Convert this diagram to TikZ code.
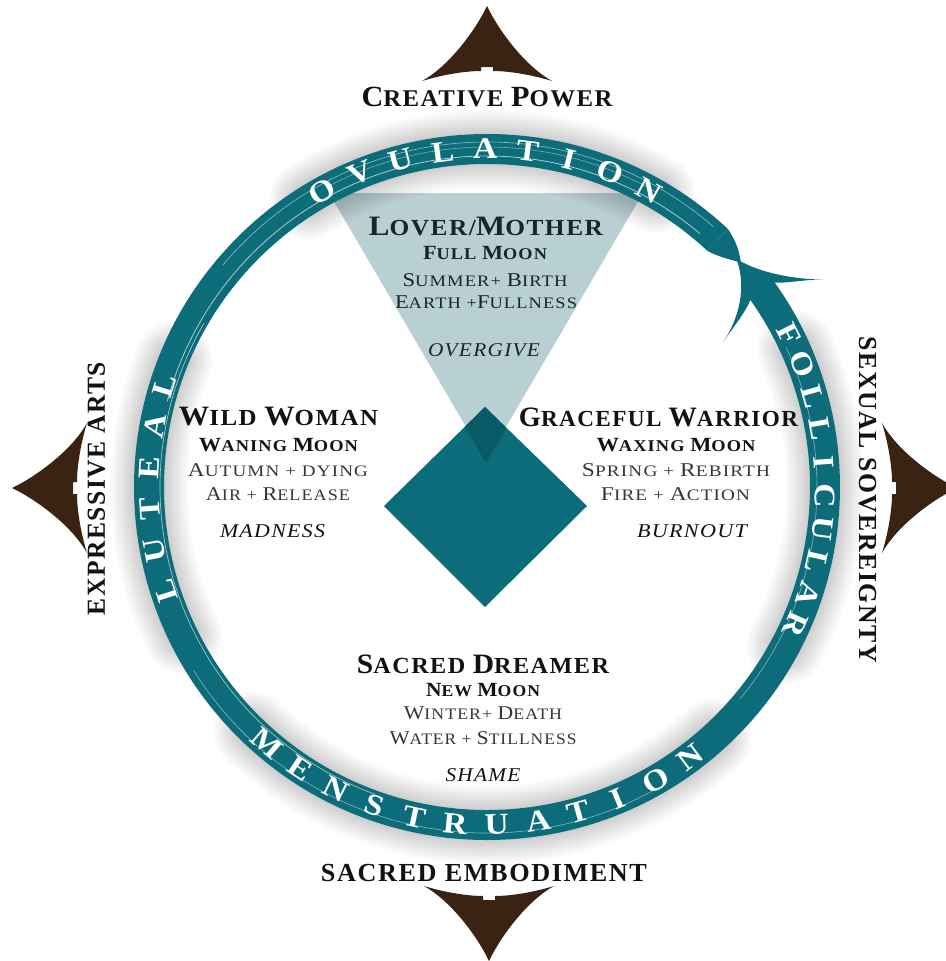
\documentclass[tikz,border=0pt]{standalone}
\usepackage{fontspec}
\setmainfont{Liberation Serif}[LetterSpace=6]
\usepackage{graphicx}
\usetikzlibrary{calc}
\definecolor{teal1}{RGB}{12,108,122}
\definecolor{tealdk}{RGB}{8,90,102}
\definecolor{tri}{RGB}{184,207,212}
\definecolor{brn}{RGB}{58,35,18}
\definecolor{ink}{RGB}{18,18,18}
\definecolor{trink}{RGB}{22,38,41}
\makeatletter
\newcommand\K[1]{{\@tempdima=\f@size pt\relax\@tempdima=1.22\@tempdima\fontsize{\strip@pt\@tempdima}{0}\selectfont#1}}
\makeatother
\newcommand\W[2]{\resizebox{#1pt}{\height}{#2}}
\tikzset{
  lbl/.style={inner sep=0pt, text=ink},
  outerlbl/.style={lbl, font=\bfseries\fontsize{26}{26}\selectfont},
  outersc/.style={lbl, font=\bfseries\fontsize{24}{24}\selectfont},
  titlelbl/.style={lbl, font=\bfseries\fontsize{23}{23}\selectfont},
  moonlbl/.style={lbl, font=\bfseries\fontsize{16.5}{17}\selectfont},
  elemlbl/.style={lbl, font=\fontsize{16}{16}\selectfont, text=ink!85},
  shadowlbl/.style={lbl, font=\itshape\fontsize{19.5}{20}\selectfont},
  intri/.style={text=trink},
  ringletter/.style={inner sep=0pt, text=white, font=\bfseries\fontsize{30}{30}\selectfont},
  halo/.style={black, opacity=0.015, line cap=round},
  brownarrow/.pic={\fill[brn] (0,60) .. controls (-12,35) and (-38,0) .. (-65,-15)
      .. controls (-42,-8) and (-20,-5) .. (-6,-5) -- (-6,-1) -- (6,-1) -- (6,-5)
      .. controls (20,-5) and (42,-8) .. (65,-15)
      .. controls (38,0) and (12,35) .. (0,60) -- cycle;}
}
% #1 name prefix, #2 letters, #3 first angle, #4 angle step, #5 rotation offset
\newcommand\ringword[5]{%
  \foreach \rl [count=\ri] in {#2}{
    \pgfmathsetmacro\rang{#3+#4*(\ri-1)}
    \pgfmathsetmacro\rrot{\rang+#5}
    \node[ringletter, rotate=\rrot] (#1\ri) at ($(C)+(\rang:338)$) {\scalebox{1.12}[1]{\rl}};
  }}
\begin{document}
\begin{tikzpicture}[x=1pt,y=1pt]
\useasboundingbox (0,0) rectangle (945,-961);
\fill[white] (0,0) rectangle (945,-961);
\coordinate (C) at (487,-487);
% triangle and diamond
\fill[tri] (329,-193) -- (643,-193) -- (486,-461) -- cycle;
\fill[teal1] (485,-407) -- (587,-506) -- (485,-607) -- (384,-506) -- cycle;
\begin{scope}
  \clip (485,-407) -- (587,-506) -- (485,-607) -- (384,-506) -- cycle;
  \fill[tealdk] (329,-193) -- (643,-193) -- (486,-463) -- cycle;
\end{scope}
% soft halo around ring text
\foreach \ww in {34,38,...,78}{
  \draw[halo, line width=\ww] ($(C)+(60:338)$) arc[start angle=60,end angle=122,radius=338];
  \draw[halo, line width=\ww] ($(C)+(158:338)$) arc[start angle=158,end angle=206,radius=338];
  \draw[halo, line width=\ww] ($(C)+(226:338)$) arc[start angle=226,end angle=312,radius=338];
  \draw[halo, line width=\ww] ($(C)+(-28:338)$) arc[start angle=-28,end angle=24,radius=338];
}
% ring band
\draw[teal1, line width=30] ($(C)+(47:338)$) arc[start angle=47,end angle=397.5,radius=338];
\fill[teal1] ($(C)+(47:353)$) .. controls ($(C)+(44.5:350)$) and ($(C)+(43:345)$) .. ($(C)+(41.5:339)$)
   .. controls ($(C)+(43:333)$) and ($(C)+(45:326)$) .. ($(C)+(47:323)$) -- cycle;
% arrow head
\fill[teal1] ($(C)+(42.5:338)$) .. controls ($(C)+(39.5:343)$) and ($(C)+(35:362)$) .. ($(C)+(31.5:397)$)
   .. controls ($(C)+(33:382)$) and ($(C)+(34:364)$) .. ($(C)+(35.5:352)$)
   -- ($(C)+(35.5:324)$)
   .. controls ($(C)+(34:312)$) and ($(C)+(33:293)$) .. ($(C)+(31.5:277)$)
   .. controls ($(C)+(35:318)$) and ($(C)+(40:333)$) .. cycle;
% brush streaks
\draw[white, opacity=.65, line width=.8] ($(C)+(50:331)$) arc[start angle=50,end angle=165,radius=331];
\draw[white, opacity=.55, line width=.6] ($(C)+(49:345)$) arc[start angle=49,end angle=140,radius=345];
\draw[white, opacity=.45, line width=.6] ($(C)+(60:340)$) arc[start angle=60,end angle=118,radius=340];
\draw[white, opacity=.6, line width=.7] ($(C)+(150:327)$) arc[start angle=150,end angle=250,radius=327];
\draw[white, opacity=.5, line width=.6] ($(C)+(212:346)$) arc[start angle=212,end angle=300,radius=346];
\draw[white, opacity=.5, line width=.6] ($(C)+(-40:330)$) arc[start angle=-40,end angle=25,radius=330];
% ring texts
\ringword{ov}{O,V,U,L,A,T,I,O,N}{119.2}{-7.225}{-90}
\ringword{lu}{L,U,T,E,A,L}{197.9}{-7.08}{-90}
\ringword{fo}{F,O,L,L,I,C,U,L,A,R}{26.9}{-5.667}{-90}
\ringword{me}{M,E,N,S,T,R,U,A,T,I,O,N}{229.3}{7.06}{90}
% outer labels
\node[outersc] (cp) at (487,-97) {\W{251}{\K{C}REATIVE \K{P}OWER}};
\node[outerlbl] (se) at (484,-873) {\W{326}{SACRED EMBODIMENT}};
\node[outerlbl, rotate=90] (ea) at (96.5,-488.5) {\W{253}{EXPRESSIVE ARTS}};
\node[outerlbl, rotate=-90] (ss) at (867.5,-500) {\W{326}{SEXUAL SOVEREIGNTY}};
% lover / mother
\node[titlelbl, intri] (lm1) at (486,-226) {\W{234}{\K{L}OVER/\K{M}OTHER}};
\node[moonlbl, intri] (lm2) at (485,-253) {\W{124}{\K{F}ULL \K{M}OON}};
\node[elemlbl, intri] (lm3) at (485,-280) {\W{165}{\K{S}UMMER+ \K{B}IRTH}};
\node[elemlbl, intri] (lm4) at (486,-302) {\W{182}{\K{E}ARTH +\K{F}ULLNESS}};
\node[shadowlbl, intri] (lm5) at (484,-350) {\W{112}{OVERGIVE}};
% wild woman
\node[titlelbl] (ww1) at (278.5,-417) {\W{199}{\K{W}ILD \K{W}OMAN}};
\node[moonlbl] (ww2) at (278.5,-445) {\W{159}{\K{W}ANING \K{M}OON}};
\node[elemlbl] (ww3) at (278,-470) {\W{180}{\K{A}UTUMN + DYING}};
\node[elemlbl] (ww4) at (278,-494) {\W{144}{\K{A}IR + \K{R}ELEASE}};
\node[shadowlbl] (ww5) at (272.5,-531) {\W{105}{MADNESS}};
% graceful warrior
\node[titlelbl] (gw1) at (658.5,-417) {\W{279}{\K{G}RACEFUL \K{W}ARRIOR}};
\node[moonlbl] (gw2) at (676,-445) {\W{159}{\K{W}AXING \K{M}OON}};
\node[elemlbl] (gw3) at (676,-470) {\W{188}{\K{S}PRING + \K{R}EBIRTH}};
\node[elemlbl] (gw4) at (675.5,-494) {\W{149}{\K{F}IRE + \K{A}CTION}};
\node[shadowlbl] (gw5) at (692,-531) {\W{110}{BURNOUT}};
% sacred dreamer
\node[titlelbl] (sd1) at (483,-664) {\W{252}{\K{S}ACRED \K{D}REAMER}};
\node[moonlbl] (sd2) at (483,-690) {\W{114}{\K{N}EW \K{M}OON}};
\node[elemlbl] (sd3) at (483,-713.5) {\W{158}{\K{W}INTER+ \K{D}EATH}};
\node[elemlbl] (sd4) at (483,-738) {\W{187}{\K{W}ATER + \K{S}TILLNESS}};
\node[shadowlbl] (sd5) at (483,-775) {\W{75}{SHAME}};
% brown arrows
\pic (arrT) at (487,-66) {brownarrow};
\pic[rotate=180] (arrB) at (489,-901) {brownarrow};
\pic[rotate=90] (arrL) at (72,-488) {brownarrow};
\pic[rotate=-90] (arrR) at (897,-488) {brownarrow};
\end{tikzpicture}
\end{document}
